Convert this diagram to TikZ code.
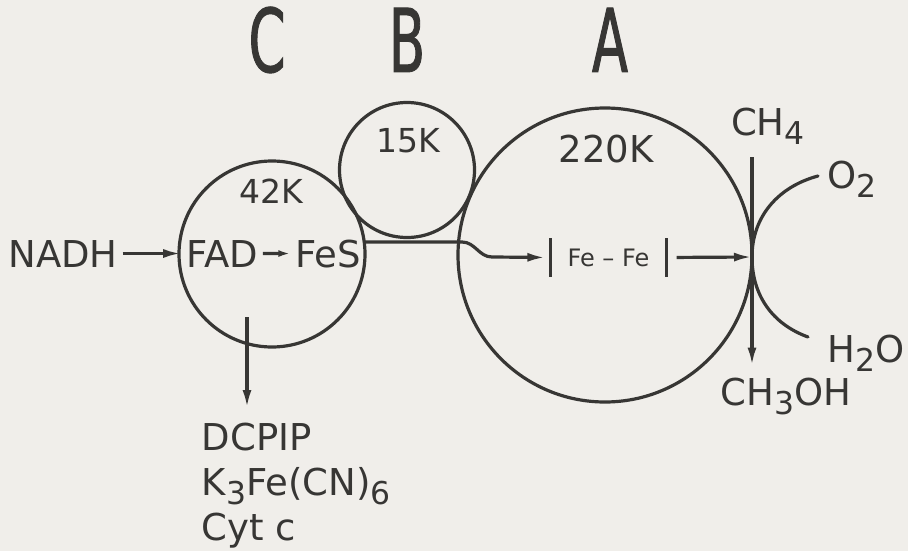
\documentclass[tikz,border=0pt]{standalone}
\usepackage{fontspec}
\setmainfont{DejaVu Sans}
\newfontfamily\ttlfont[FakeStretch=0.6, FakeBold=1]{DejaVu Sans}
\usetikzlibrary{arrows.meta}
\definecolor{ink}{RGB}{55,54,52}
\definecolor{paper}{RGB}{240,238,234}
\newcommand{\dn}[1]{\raisebox{-0.25em}{\scalebox{0.85}{#1}}}

\begin{document}
\begin{tikzpicture}[x=1pt, y=-1pt, line width=3.2pt, color=ink,
    lbl/.style={anchor=base, font=\fontsize{37}{45}\selectfont},
    ttl/.style={anchor=base, font=\ttlfont\fontsize{88}{96}\selectfont},
    unit/.style={circle, draw, inner sep=0pt},
    arr/.style={-{Latex[length=18pt,width=9pt]}},
    sarr/.style={-{Latex[length=12pt,width=7pt]}}]
    \fill[paper] (0,0) rectangle (908,551);
    \useasboundingbox (0,0) rectangle (908,551);

    \node[unit, minimum size=186pt] (cC) at (272,254) {};
    \node[unit, minimum size=135pt] (cB) at (407,170) {};
    \node[unit, minimum size=294pt] (cA) at (605,255) {};

    \node[ttl] (tC) at (267,72) {C};
    \node[ttl] (tB) at (407,72) {B};
    \node[ttl] (tA) at (610,72) {A};

    \node[lbl, font=\fontsize{33}{40}\selectfont] (mC) at (271,203) {42K};
    \node[lbl, font=\fontsize{33}{40}\selectfont] (mB) at (408,152) {15K};
    \node[lbl] (mA) at (606,162) {220K};

    \node[lbl] (nadh) at (63,267) {NADH};
    \node[lbl] (fad) at (222,267) {FAD};
    \node[lbl] (fes) at (328,267) {FeS};
    \draw[arr] (nadh) -- (fad);
    \draw[sarr] (fad) -- (fes);

    \node[lbl, anchor=north west, align=left] (acc) at (197,418) {DCPIP\\K\dn{3}Fe(CN)\dn{6}\\Cyt c};
    \coordinate (dout) at (247,317);
    \draw[arr, shorten >=10pt] (dout) -- (dout |- acc.north);

    \node[font=\fontsize{24}{28}\selectfont, minimum height=35pt, minimum width=113pt, inner sep=0pt] (fefe) at (608.5,257.5) {Fe -- Fe};
    \draw (fefe.north west) -- (fefe.south west);
    \draw (fefe.north east) -- (fefe.south east);

    \coordinate (jC) at (364,242);
    \coordinate (jA) at (462,242);
    \coordinate (jD) at (492,257);
    \draw[arr, shorten >=5pt] (jC) -- (jA) to[out=0,in=180] (jD) -- (fefe.west);

    \coordinate (site) at (752,257);
    \draw[arr, shorten <=10pt] (fefe.east) -- (site);

    \node[lbl] (ch4) at (768,135) {CH\dn{4}};
    \node[lbl] (ch3oh) at (786,405) {CH\dn{3}OH};
    \node[lbl] (o2) at (852,188) {O\dn{2}};
    \node[lbl] (h2o) at (866,362) {H\dn{2}O};
    \draw[arr, shorten <=8pt, shorten >=7pt] (site |- ch4.south) -- (site |- ch3oh.north);

    \coordinate (oin) at (818,176);
    \coordinate (wout) at (808,337);
    \draw[line cap=round] (oin) to[out=195,in=90] (site) to[out=-90,in=160] (wout);
\end{tikzpicture}
\end{document}
